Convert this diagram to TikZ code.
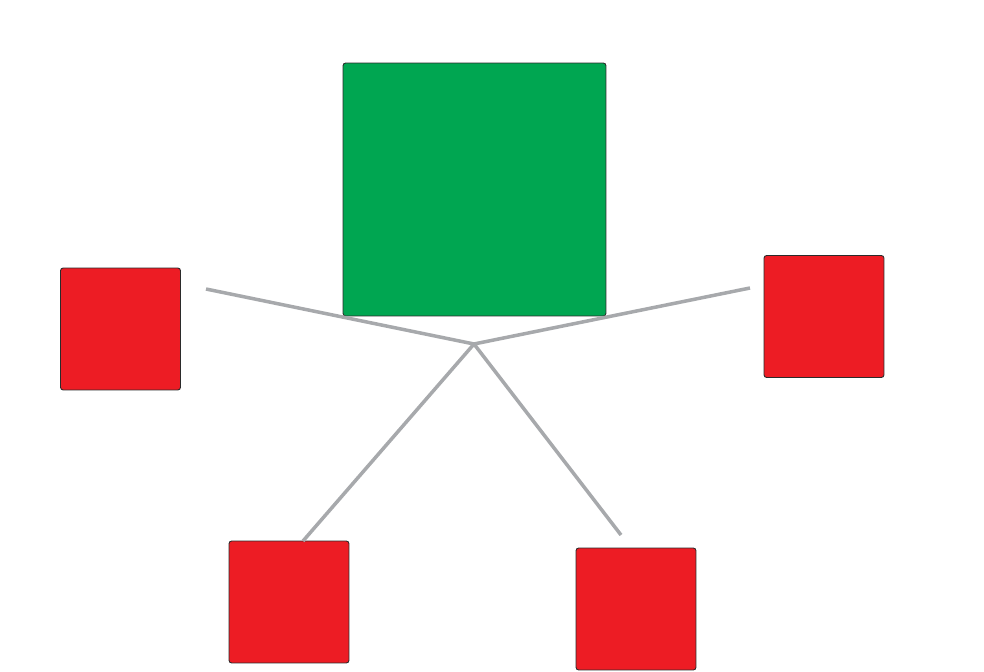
\documentclass[tikz,border=0pt]{standalone}
\usepackage{tikz}
\usetikzlibrary{positioning,calc}
\definecolor{hubgreen}{HTML}{00A651}
\definecolor{leafred}{HTML}{ED1C24}
\definecolor{linkgrey}{HTML}{A7A9AC}
\definecolor{edgedark}{HTML}{2B2B2B}

\begin{document}
\begin{tikzpicture}[
  x=0.02cm, y=-0.02cm,
  boxbase/.style={draw=edgedark, line width=0.5pt, rounded corners=1.5pt, inner sep=0pt},
  leafbox/.style={boxbase, fill=leafred, minimum width=2.40cm, minimum height=2.44cm},
  linkline/.style={linkgrey, line width=2pt},
]
% canvas in pixel units of the reference (984 x 672)
\useasboundingbox (0,0) rectangle (984,672);

% --- Central box
\node[boxbase, fill=hubgreen, minimum width=5.26cm, minimum height=5.06cm] (core) at (474.5,189.5) {};

% --- Four satellites
\node[leafbox] (west)  at (120.5,329) {};
\node[leafbox] (east)  at (824,316.5) {};
\node[leafbox] (swest) at (289,602) {};
\node[leafbox] (seast) at (636,609) {};

% --- Spokes meet below the central box
\coordinate (hub) at (474,344);
\coordinate (westend) at (206,289);
\coordinate (eastend) at (750,288);
\coordinate (swestend) at (303,541);
\coordinate (seastend) at (621,535);

\foreach \tip in {westend, eastend, swestend, seastend} {
  \draw[linkline] (hub) -- (\tip);
}
\end{tikzpicture}
\end{document}
